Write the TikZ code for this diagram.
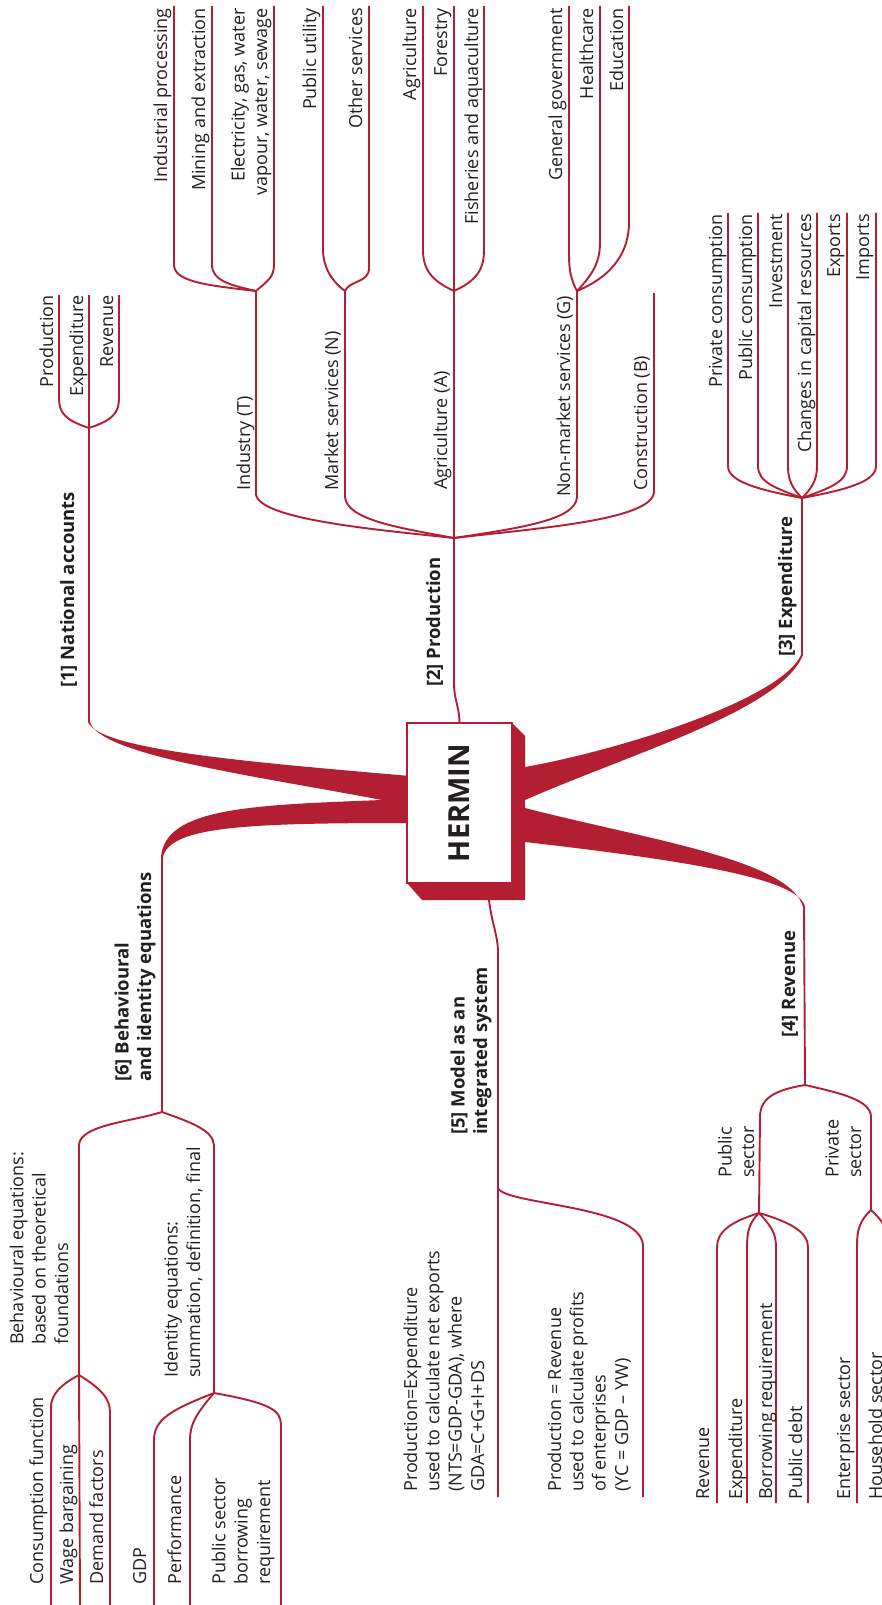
\documentclass[tikz,border=0pt]{standalone}
\usepackage{fontspec}
\setmainfont{Open Sans}
\definecolor{hred}{RGB}{180,30,50}
\definecolor{ink}{RGB}{35,31,32}
\tikzset{
  conn/.style={draw=hred, line width=1.9pt},
  band/.style={fill=hred, draw=none},
  lbl/.style={rotate=90, inner sep=0pt, text=ink, font=\fontsize{18}{22.3}\selectfont},
  toplbl/.style={lbl, anchor=base east, align=right},
  botlbl/.style={lbl, anchor=base west, align=left},
  headlbl/.style={botlbl, font=\fontsize{18.5}{22.3}\selectfont\bfseries},
  hbox/.style={rotate=90, draw=hred, fill=white, line width=1.2pt, inner sep=0pt,
    minimum width=160pt, minimum height=105pt, text=ink,
    font=\fontsize{29}{29}\selectfont\bfseries}
}
\begin{document}
\begin{tikzpicture}[x=1pt,y=-1pt]
\useasboundingbox (0,0) rectangle (882,1605);

% ---------- tapered bands leaving the central box ----------
\fill[band] (410,776) .. controls (250,762) and (100,750) .. (88,722) -- (90,722)
  .. controls (100,755) and (250,775) .. (382,800) -- (410,800) -- cycle;
\fill[band] (382,800) -- (410,800) -- (410,823) .. controls (250,823) and (170,826) .. (163,857)
  -- (161,857) .. controls (165,808) and (250,805) .. (382,800) -- cycle;
\fill[band] (520,767) -- (525,767) .. controls (620,750) and (780,700) .. (801,655) -- (803,655)
  .. controls (780,710) and (640,750) .. (525,800) -- (520,800) -- cycle;
\fill[band] (520,808) -- (525,808) .. controls (650,840) and (790,860) .. (803,907) -- (805,907)
  .. controls (800,880) and (700,862) .. (525,842) -- (520,842) -- cycle;

% ---------- central box with its extruded edge ----------
\fill[hred] (512,723) -- (525,736) -- (525,900) -- (422,900) -- (407,883) -- (512,883) -- cycle;
\node[hbox] (hermin) at (459.5,803) {HERMIN};

% ---------- junctions and line ends ----------
\coordinate (naT) at (89,722);   \coordinate (naJ) at (89,428);
\coordinate (prJ) at (454,538);
\coordinate (exT) at (802,655);  \coordinate (exJ) at (802,498);
\coordinate (reT) at (804,907);  \coordinate (reJ) at (805,1085);
\coordinate (moB) at (489,900);  \coordinate (moJ) at (498,1188);
\coordinate (beT) at (162,857);  \coordinate (beJ) at (162,1112);
\coordinate (inJ) at (256,291);  \coordinate (maJ) at (345,291);
\coordinate (agJ) at (454,291);  \coordinate (nmJ) at (577,291);
\coordinate (puJ) at (759,1213); \coordinate (pvJ) at (871,1210);
\coordinate (bhJ) at (79,1375);  \coordinate (idJ) at (214,1393);

% ---------- [1] national accounts ----------
\draw[conn] (naT) -- (naJ);
\draw[conn] (naJ) .. controls (65,420) and (59,413) .. (59,398) -- (59,295);
\draw[conn] (naJ) -- (89,295);
\draw[conn] (naJ) .. controls (113,420) and (119,413) .. (119,398) -- (119,295);

% ---------- [2] production ----------
\draw[conn] (hermin.east) .. controls (459,705) and (454,700) .. (454,683) -- (prJ);
\draw[conn] (prJ) .. controls (380,530) and (262,520) .. (256,495) -- (inJ);
\draw[conn] (prJ) .. controls (400,528) and (347,520) .. (345,497) -- (maJ);
\draw[conn] (prJ) -- (agJ);
\draw[conn] (prJ) .. controls (520,528) and (576,520) .. (577,497) -- (nmJ);
\draw[conn] (prJ) .. controls (540,528) and (652,520) .. (654,492) -- (654,293);
\draw[conn] (inJ) .. controls (215,286) and (174,283) .. (174,265) -- (174,6);
\draw[conn] (inJ) .. controls (235,286) and (212,282) .. (212,265) -- (212,6);
\draw[conn] (inJ) .. controls (266,282) and (274,278) .. (274,265) -- (274,6);
\draw[conn] (maJ) .. controls (330,280) and (323,265) .. (323,250) -- (323,6);
\draw[conn] (maJ) .. controls (350,280) and (369,283) .. (369,268) -- (369,6);
\draw[conn] (agJ) .. controls (430,280) and (423,268) .. (423,250) -- (423,6);
\draw[conn] (agJ) -- (454,6);
\draw[conn] (agJ) .. controls (478,280) and (484,268) .. (484,250) -- (484,6);
\draw[conn] (nmJ) .. controls (571,280) and (569,270) .. (569,255) -- (569,6);
\draw[conn] (nmJ) .. controls (595,272) and (600,260) .. (600,242) -- (600,6);
\draw[conn] (nmJ) .. controls (615,275) and (629,250) .. (629,222) -- (629,6);

% ---------- [3] expenditure ----------
\draw[conn] (exT) -- (exJ);
\draw[conn] (exJ) .. controls (760,490) and (728,482) .. (728,466) -- (728,213);
\draw[conn] (exJ) .. controls (775,488) and (758,482) .. (758,466) -- (758,213);
\draw[conn] (exJ) .. controls (792,488) and (788,480) .. (788,466) -- (788,213);
\draw[conn] (exJ) .. controls (812,488) and (817,480) .. (817,466) -- (817,213);
\draw[conn] (exJ) .. controls (830,488) and (847,482) .. (847,466) -- (847,213);
\draw[conn] (exJ) .. controls (845,490) and (876,482) .. (876,466) -- (876,213);

% ---------- [4] revenue ----------
\draw[conn] (reT) -- (reJ);
\draw[conn] (reJ) .. controls (775,1090) and (760,1098) .. (760,1117) -- (puJ);
\draw[conn] (reJ) .. controls (840,1093) and (871,1100) .. (871,1117) -- (pvJ);
\draw[conn] (puJ) .. controls (730,1222) and (717,1232) .. (717,1247) -- (717,1503);
\draw[conn] (puJ) .. controls (750,1222) and (747,1230) .. (747,1247) -- (747,1503);
\draw[conn] (puJ) .. controls (770,1225) and (776,1232) .. (776,1247) -- (776,1503);
\draw[conn] (puJ) .. controls (790,1222) and (808,1232) .. (808,1247) -- (808,1503);
\draw[conn] (pvJ) .. controls (860,1220) and (857,1230) .. (857,1245) -- (857,1503);
\draw[conn] (pvJ) .. controls (882,1220) and (889,1230) .. (889,1245) -- (889,1503);

% ---------- [5] model as an integrated system ----------
\draw[conn] (moB) .. controls (492,925) and (498,935) .. (498,953) -- (moJ) -- (498,1497);
\draw[conn] (moJ) .. controls (505,1205) and (640,1205) .. (643,1245) -- (643,1497);

% ---------- [6] behavioural and identity equations ----------
\draw[conn] (beT) -- (beJ);
\draw[conn] (beJ) .. controls (130,1122) and (80,1125) .. (79,1145) -- (bhJ);
\draw[conn] (beJ) .. controls (190,1122) and (213,1130) .. (214,1145) -- (idJ);
\draw[conn] (bhJ) .. controls (60,1385) and (51,1395) .. (51,1407) -- (51,1605);
\draw[conn] (bhJ) -- (80,1605);
\draw[conn] (bhJ) .. controls (100,1388) and (110,1398) .. (110,1412) -- (110,1605);
\draw[conn] (idJ) .. controls (170,1410) and (154,1420) .. (154,1440) -- (154,1605);
\draw[conn] (idJ) .. controls (195,1415) and (190,1425) .. (190,1440) -- (190,1605);
\draw[conn] (idJ) .. controls (270,1403) and (281,1410) .. (281,1425) -- (281,1605);

% ---------- branch titles (multi-line: anchored on the last line) ----------
\node[headlbl] (h1) at (74,688) {[1] National accounts};
\node[headlbl] (h2) at (440,687) {[2] Production};
\node[headlbl] (h3) at (792,657) {[3] Expenditure};
\node[headlbl] (h4) at (795,1038) {[4] Revenue};
\node[headlbl] (h5) at (487,1135) {[5] Model as an\\integrated system};
\node[headlbl] (h6) at (151,1082) {[6] Behavioural\\and identity equations};

% ---------- labels of [1] ----------
\node[toplbl] (na1) at (53,295) {Production};
\node[toplbl] (na2) at (83,295) {Expenditure};
\node[toplbl] (na3) at (113,295) {Revenue};

% ---------- labels of [2] ----------
\node[botlbl] (pr1) at (250,491) {Industry (T)};
\node[botlbl] (pr2) at (338,491) {Market services (N)};
\node[botlbl] (pr3) at (447,490) {Agriculture (A)};
\node[botlbl] (pr4) at (570,497) {Non-market services (G)};
\node[botlbl] (pr5) at (647,491) {Construction (B)};
\node[toplbl] (in1) at (167,8) {Industrial processing};
\node[toplbl] (in2) at (205,8) {Mining and extraction};
\node[toplbl] (in3) at (267,8) {Electricity, gas, water\\vapour, water, sewage};
\node[toplbl] (ma1) at (316,8) {Public utility};
\node[toplbl] (ma2) at (362,8) {Other services};
\node[toplbl] (ag1) at (416,8) {Agriculture};
\node[toplbl] (ag2) at (447,8) {Forestry};
\node[toplbl] (ag3) at (478,8) {Fisheries and aquaculture};
\node[toplbl] (nm1) at (562,8) {General government};
\node[toplbl] (nm2) at (593,8) {Healthcare};
\node[toplbl] (nm3) at (623,8) {Education};

% ---------- labels of [3] ----------
\node[toplbl] (ex1) at (722,214) {Private consumption};
\node[toplbl] (ex2) at (752,214) {Public consumption};
\node[toplbl] (ex3) at (782,214) {Investment};
\node[toplbl] (ex4) at (811,214) {Changes in capital resources};
\node[toplbl] (ex5) at (840,214) {Exports};
\node[toplbl] (ex6) at (869,214) {Imports};

% ---------- labels of [4] ----------
\node[botlbl] (re1) at (754,1178) {Public\\sector};
\node[botlbl] (re2) at (861,1178) {Private\\sector};
\node[botlbl] (pu1) at (709,1500) {Revenue};
\node[botlbl] (pu2) at (742,1500) {Expenditure};
\node[botlbl] (pu3) at (772,1500) {Borrowing requirement};
\node[botlbl] (pu4) at (802,1500) {Public debt};
\node[botlbl] (pv1) at (850,1500) {Enterprise sector};
\node[botlbl] (pv2) at (882,1500) {Household sector};

% ---------- labels of [5] ----------
\node[botlbl] (mo1) at (484,1492) {Production=Expenditure\\used to calculate net exports\\(NTS=GDP-GDA), where\\GDA=C+G+I+DS};
\node[botlbl] (mo2) at (628,1492) {Production = Revenue\\used to calculate profits\\of enterprises\\(YC = GDP – YW)};

% ---------- labels of [6] ----------
\node[botlbl] (be1) at (68,1345) {Behavioural equations:\\based on theoretical\\foundations};
\node[botlbl] (be2) at (200,1378) {Identity equations:\\summation, definition, final};
\node[botlbl] (bh1) at (43,1585) {Consumption function};
\node[botlbl] (bh2) at (73,1585) {Wage bargaining};
\node[botlbl] (bh3) at (103,1585) {Demand factors};
\node[botlbl] (id1) at (146,1585) {GDP};
\node[botlbl] (id2) at (181,1585) {Performance};
\node[botlbl] (id3) at (270,1585) {Public sector\\borrowing\\requirement};
\end{tikzpicture}
\end{document}
